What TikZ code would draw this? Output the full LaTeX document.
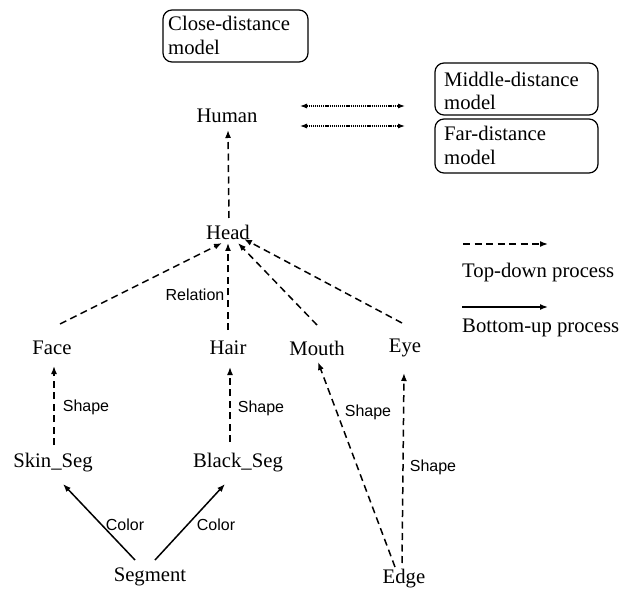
\documentclass[tikz,border=0pt]{standalone}
\usepackage{fontspec}
\setmainfont{Liberation Serif}
\newfontfamily\labelfont{Liberation Sans}
\usetikzlibrary{arrows.meta}
\begin{document}
\begin{tikzpicture}[x=1pt,y=-1pt,
  every node/.style={inner sep=1pt, font=\fontsize{20.7}{24}\selectfont},
  concept/.style={},
  modelbox/.style={line width=1.2pt, rounded corners=9pt},
  rel/.style={font=\labelfont\fontsize{16}{18}\selectfont},
  tip/.style={-{Latex[length=8pt,width=6pt]}},
  td/.style={tip, line width=1.5pt, dash pattern=on 7pt off 4.5pt},
  bu/.style={tip, line width=1.5pt},
  link/.style={{Latex[length=7pt,width=5pt]}-{Latex[length=7pt,width=5pt]},
    line width=1.1pt, dash pattern=on 1.2pt off 0.9pt}]
\useasboundingbox (0,0) rectangle (622,591);

% model boxes
\draw[modelbox] (163,10) rectangle (308,62);
\node[anchor=west] (close) at (167,23) {Close-distance};
\node[anchor=west] (closeb) at (167,47) {model};
\draw[modelbox] (435,63) rectangle (598,115);
\node[anchor=west] (middle) at (443,79) {Middle-distance};
\node[anchor=west] (middleb) at (443,102) {model};
\draw[modelbox] (435,119) rectangle (598,173);
\node[anchor=west] (far) at (443,133) {Far-distance};
\node[anchor=west] (farb) at (443,157) {model};

% concept nodes
\node[concept] (human) at (227,116) {Human};
\node[concept] (head) at (228,232) {Head};
\node[concept] (face) at (52,348) {Face};
\node[concept] (hair) at (228,348) {Hair};
\node[concept] (mouth) at (317,348) {Mouth};
\node[concept] (eye) at (405,348) {Eye};
\node[concept] (skin) at (53,463) {Skin\_Seg};
\node[concept] (black) at (238,463) {Black\_Seg};
\node[concept] (segment) at (150,577) {Segment};
\node[concept] (edge) at (404,579) {Edge};

% links between Human and the distance models
\coordinate (la) at (300,106);
\coordinate (lb) at (405,106);
\coordinate (lc) at (300,126);
\coordinate (ld) at (405,126);
\draw[link] (la) -- (lb);
\draw[link] (lc) -- (ld);

% top-down relations
\draw[td] ([shift={(1,-14)}]head.center) -- ([shift={(1,14)}]human.center);
\draw[td] ([shift={(8,-24)}]face.center) -- ([shift={(-6,11)}]head.center);
\draw[td] ([shift={(0,-18)}]hair.center) -- ([shift={(0,11)}]head.center);
\draw[td] ([shift={(0,-23)}]mouth.center) -- ([shift={(10,11)}]head.center);
\draw[td] ([shift={(-3,-25)}]eye.center) -- ([shift={(16,7)}]head.center);
\draw[td] ([shift={(1,-18)}]skin.center) -- ([shift={(2,18)}]face.center);
\draw[td] ([shift={(-8,-21)}]black.center) -- ([shift={(2,19)}]hair.center);
\draw[td] ([shift={(-9,-12)}]edge.center) -- ([shift={(1,14)}]mouth.center);
\draw[td] ([shift={(-2,-16)}]edge.center) -- ([shift={(-1,25)}]eye.center);

% bottom-up relations
\draw[bu] ([shift={(-15,-17)}]segment.center) -- ([shift={(10,21)}]skin.center);
\draw[bu] ([shift={(5,-17)}]segment.center) -- ([shift={(-13,21)}]black.center);

% relation labels
\node[rel] (lrel) at (195,295) {Relation};
\node[rel] (lsh1) at (86,407) {Shape};
\node[rel] (lsh2) at (261,408) {Shape};
\node[rel] (lsh3) at (368,412) {Shape};
\node[rel] (lsh4) at (433,467) {Shape};
\node[rel] (lcol1) at (125,525) {Color};
\node[rel] (lcol2) at (216,525) {Color};

% legend
\coordinate (kta) at (463,244);
\coordinate (ktb) at (548,244);
\coordinate (kba) at (462,307);
\coordinate (kbb) at (548,307);
\draw[td] (kta) -- (ktb);
\draw[bu] (kba) -- (kbb);
\node[anchor=west] (ktd) at (461,273) {Top-down process};
\node[anchor=west] (kbu) at (461,328) {Bottom-up process};
\end{tikzpicture}
\end{document}
